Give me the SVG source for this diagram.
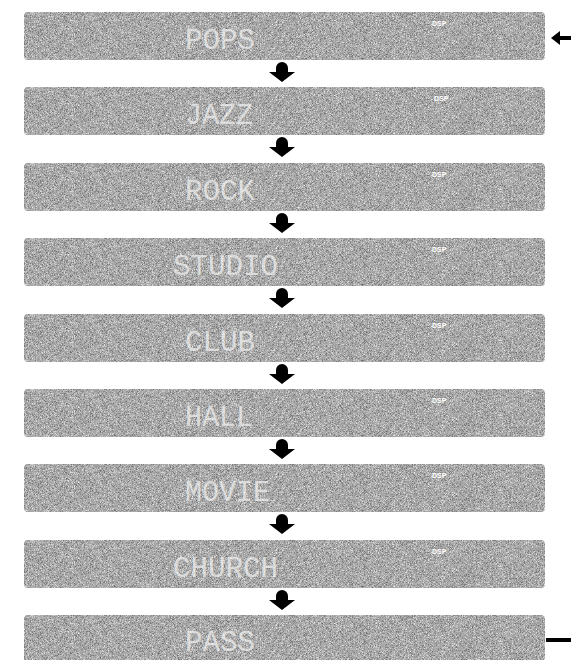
<svg xmlns="http://www.w3.org/2000/svg" xmlns:xlink="http://www.w3.org/1999/xlink" width="571" height="660" viewBox="0 0 571 660">
  <style>
    .panel { fill: #a9a9a9; filter: url(#grain); }
    .mode { font-family: "Liberation Mono", "DejaVu Sans Mono", monospace; font-size: 30px; fill: #f4f4f4; fill-opacity: 0.7; }
    .dsp { font-family: "Liberation Sans", Arial, sans-serif; font-size: 7px; font-weight: bold; fill: #ffffff; }
    .arrow { fill: #000000; }
    .line { stroke: #000000; stroke-width: 4; fill: none; }
  </style>
  <defs>
    <filter id="grain" x="0" y="0" width="1" height="1" filterUnits="objectBoundingBox" color-interpolation-filters="sRGB">
      <feTurbulence type="fractalNoise" baseFrequency="1.5" numOctaves="1" seed="4" result="t"/>
      <feColorMatrix in="t" type="matrix" values="0.8 0 0 0 0.26  0.8 0 0 0 0.26  0.8 0 0 0 0.26  0 0 0 0 1" result="g"/>
      <feComposite in="g" in2="SourceAlpha" operator="in"/>
    </filter>
    <path id="down" d="M-6 10 V6 A6 6 0 0 1 6 6 V10 H13 L0 20 L-13 10 Z"/>
    <rect id="box" x="24" y="0" width="521" height="48" rx="4" ry="4"/>
  </defs>

  <g id="pops" transform="translate(0,12)">
    <use xlink:href="#box" class="panel"/>
    <text class="mode" x="185" y="37" textLength="70" lengthAdjust="spacingAndGlyphs">POPS</text>
    <text class="dsp" x="432" y="14">DSP</text>
  </g>
  <g id="jazz" transform="translate(0,87)">
    <use xlink:href="#box" class="panel"/>
    <text class="mode" x="185" y="37" textLength="68" lengthAdjust="spacingAndGlyphs">JAZZ</text>
    <text class="dsp" x="434" y="14">DSP</text>
  </g>
  <g id="rock" transform="translate(0,163)">
    <use xlink:href="#box" class="panel"/>
    <text class="mode" x="185" y="37" textLength="70" lengthAdjust="spacingAndGlyphs">ROCK</text>
    <text class="dsp" x="432" y="14">DSP</text>
  </g>
  <g id="studio" transform="translate(0,238)">
    <use xlink:href="#box" class="panel"/>
    <text class="mode" x="173" y="37" textLength="105" lengthAdjust="spacingAndGlyphs">STUDIO</text>
    <text class="dsp" x="432" y="14">DSP</text>
  </g>
  <g id="club" transform="translate(0,314)">
    <use xlink:href="#box" class="panel"/>
    <text class="mode" x="185" y="37" textLength="70" lengthAdjust="spacingAndGlyphs">CLUB</text>
    <text class="dsp" x="432" y="14">DSP</text>
  </g>
  <g id="hall" transform="translate(0,389)">
    <use xlink:href="#box" class="panel"/>
    <text class="mode" x="185" y="37" textLength="68" lengthAdjust="spacingAndGlyphs">HALL</text>
    <text class="dsp" x="432" y="14">DSP</text>
  </g>
  <g id="movie" transform="translate(0,464)">
    <use xlink:href="#box" class="panel"/>
    <text class="mode" x="185" y="37" textLength="85" lengthAdjust="spacingAndGlyphs">MOVIE</text>
    <text class="dsp" x="432" y="14">DSP</text>
  </g>
  <g id="church" transform="translate(0,540)">
    <use xlink:href="#box" class="panel"/>
    <text class="mode" x="173" y="37" textLength="105" lengthAdjust="spacingAndGlyphs">CHURCH</text>
    <text class="dsp" x="432" y="14">DSP</text>
  </g>
  <g id="pass" transform="translate(0,615)">
    <use xlink:href="#box" class="panel"/>
    <text class="mode" x="185" y="36" textLength="70" lengthAdjust="spacingAndGlyphs">PASS</text>
  </g>

  <g id="connectors">
    <use xlink:href="#down" class="arrow" transform="translate(282,62)"/>
    <use xlink:href="#down" class="arrow" transform="translate(282,137)"/>
    <use xlink:href="#down" class="arrow" transform="translate(282,213)"/>
    <use xlink:href="#down" class="arrow" transform="translate(282,288)"/>
    <use xlink:href="#down" class="arrow" transform="translate(282,364)"/>
    <use xlink:href="#down" class="arrow" transform="translate(282,439)"/>
    <use xlink:href="#down" class="arrow" transform="translate(282,514)"/>
    <use xlink:href="#down" class="arrow" transform="translate(282,590)"/>
    <path class="line" d="M558 38 H571"/>
    <path class="arrow" d="M551 38 L560 31 V45 Z"/>
    <path class="line" d="M546 640 H571"/>
  </g>
</svg>
